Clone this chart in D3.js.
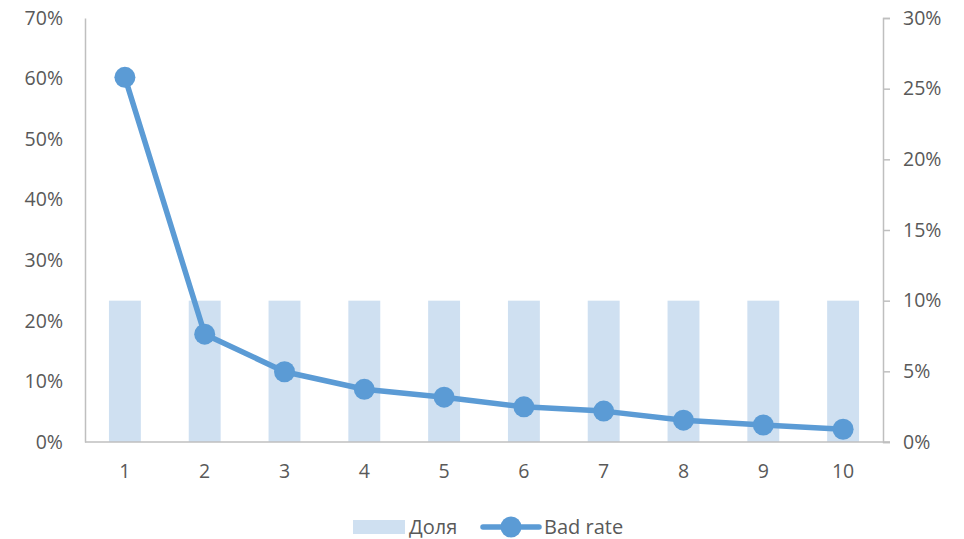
<!DOCTYPE html>
<html>
<head>
<meta charset="utf-8">
<script src="https://cdn.jsdelivr.net/npm/d3@7"></script>
<style>
  body { margin: 0; background: #fff; }
  text { font-family: "Open Sans", "Liberation Sans", sans-serif; fill: #595959; }
</style>
</head>
<body>
<div id="chart"></div>
<script>
// deciles
var categories = ["1", "2", "3", "4", "5", "6", "7", "8", "9", "10"];
// share of each decile (right axis)
var dolya = [0.10, 0.10, 0.10, 0.10, 0.10, 0.10, 0.10, 0.10, 0.10, 0.10];
// bad rate (left axis)
var badRate = [0.602, 0.178, 0.116, 0.087, 0.074, 0.058, 0.051, 0.036, 0.028, 0.021];
var leftTicks = [0, 0.1, 0.2, 0.3, 0.4, 0.5, 0.6, 0.7];
var rightTicks = [0, 0.05, 0.1, 0.15, 0.2, 0.25, 0.3];

var W = 964, H = 539;
var margin = {top: 18, right: 81, bottom: 97, left: 85};
var width = W - margin.left - margin.right,
    height = H - margin.top - margin.bottom;

var svg = d3.select("#chart").append("svg")
    .attr("width", W).attr("height", H);
var g = svg.append("g")
    .attr("transform", "translate(" + margin.left + "," + margin.top + ")");

var x = d3.scaleBand().domain(categories).range([0, width]);
var yL = d3.scaleLinear().domain([0, 0.7]).range([height, 0]);
var yR = d3.scaleLinear().domain([0, 0.3]).range([height, 0]);
var fmt = d3.format(".0%");

// bars
g.selectAll("rect.bar").data(dolya).enter().append("rect")
    .attr("class", "bar")
    .attr("x", (d, i) => x(categories[i]) + x.bandwidth() * 0.3)
    .attr("width", x.bandwidth() * 0.4)
    .attr("y", d => yR(d))
    .attr("height", d => height - yR(d))
    .attr("fill", "#cfe0f1");

// axes
var axL = g.append("g")
    .call(d3.axisLeft(yL).tickValues(leftTicks).tickFormat(fmt).tickSize(0).tickPadding(22));
axL.select(".domain").attr("stroke", "#bfbfbf").attr("stroke-width", 1.5);

var axR = g.append("g").attr("transform", "translate(" + width + ",0)")
    .call(d3.axisRight(yR).tickValues(rightTicks).tickFormat(fmt).tickSize(7).tickSizeOuter(7).tickPadding(13));
axR.select(".domain").attr("stroke", "#bfbfbf").attr("stroke-width", 1.5);
axR.selectAll(".tick line").attr("stroke", "#bfbfbf").attr("stroke-width", 1.5);

var axB = g.append("g").attr("transform", "translate(0," + height + ")")
    .call(d3.axisBottom(x).tickSize(0).tickPadding(22));
axB.select(".domain").remove();
g.append("line")
    .attr("x1", 0).attr("x2", width + 7)
    .attr("y1", height).attr("y2", height)
    .attr("stroke", "#bfbfbf").attr("stroke-width", 1.5);

svg.selectAll(".tick text").style("font-size", "19.5px").attr("fill", "#595959");

// line
var line = d3.line()
    .x((d, i) => x(categories[i]) + x.bandwidth() / 2)
    .y(d => yL(d));
g.append("path").datum(badRate)
    .attr("fill", "none")
    .attr("stroke", "#5b9bd5")
    .attr("stroke-width", 5.5)
    .attr("stroke-linejoin", "round")
    .attr("d", line);
g.selectAll("circle.pt").data(badRate).enter().append("circle")
    .attr("cx", (d, i) => x(categories[i]) + x.bandwidth() / 2)
    .attr("cy", d => yL(d))
    .attr("r", 10.5)
    .attr("fill", "#5b9bd5");

// legend
var lg = svg.append("g").attr("transform", "translate(0,526)");
lg.append("rect").attr("x", 353).attr("y", -6).attr("width", 52).attr("height", 14).attr("fill", "#cfe0f1");
lg.append("text").attr("x", 409).attr("y", 8).style("font-size", "20px").text("Доля");
lg.append("line").attr("x1", 483).attr("x2", 539).attr("y1", 1).attr("y2", 1)
    .attr("stroke", "#5b9bd5").attr("stroke-width", 5.5).attr("stroke-linecap", "round");
lg.append("circle").attr("cx", 511).attr("cy", 1).attr("r", 10.5).attr("fill", "#5b9bd5");
lg.append("text").attr("x", 544).attr("y", 8).style("font-size", "20px").text("Bad rate");
</script>
</body>
</html>
